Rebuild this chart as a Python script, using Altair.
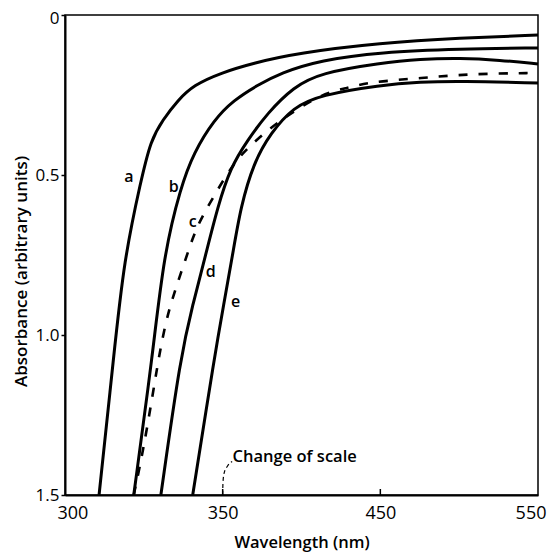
import altair as alt
import pandas as pd

# ---- data ----
a_wl = [310.8, 315.5, 318.7, 324.1, 327.2, 331.0, 335.8, 340.8, 349.4, 369.6, 397.5, 450.0, 500.6, 550.0]
a_abs = [1.5, 1.0625, 0.766, 0.516, 0.391, 0.328, 0.266, 0.219, 0.181, 0.150, 0.119, 0.0875, 0.072, 0.0625]

b_wl = [321.8, 327.8, 331.3, 336.7, 340.8, 347.2, 357.0, 372.2, 386.7, 412.0, 450.0, 500.6, 550.0]
b_abs = [1.5, 1.0625, 0.75, 0.5375, 0.431, 0.328, 0.266, 0.219, 0.181, 0.141, 0.116, 0.106, 0.103]

c_wl = [321.8, 324.7, 327.8, 330.4, 332.9, 335.8, 338.9, 341.8, 347.2, 357.0, 367.7, 384.8, 412.0, 429.1, 443.7, 476.6, 505.1, 550.0]
c_abs = [1.5, 1.366, 1.1875, 1.031, 0.922, 0.834, 0.744, 0.659, 0.566, 0.4625, 0.406, 0.334, 0.247, 0.228, 0.209, 0.197, 0.184, 0.181]

d_wl = [330.4, 336.7, 340.5, 344.6, 348.4, 355.1, 365.8, 378.5, 394.9, 412.0, 450.0, 475.3, 500.6, 525.9, 550.0]
d_abs = [1.5, 1.0625, 0.906, 0.75, 0.6, 0.475, 0.391, 0.306, 0.225, 0.181, 0.15, 0.1375, 0.134, 0.141, 0.153]

e_wl = [340.5, 347.5, 350.6, 356.3, 361.4, 369.6, 380.4, 394.9, 412.0, 450.0, 475.3, 500.6, 550.0]
e_abs = [1.5, 1.0625, 0.906, 0.75, 0.6, 0.4625, 0.369, 0.2875, 0.25, 0.219, 0.209, 0.206, 0.2125]

label_text = ["a", "b", "c", "d", "e"]
label_wl = [320.3, 334.5, 340.5, 346.2, 358.2]
label_abs = [0.506, 0.5375, 0.647, 0.803, 0.897]

x_ticks = [300, 350, 450, 550]
y_ticks = [0, 0.5, 1.0, 1.5]
inner_ticks = [350, 450]

note_text = ["Change of scale"]
note_wl = [356.3]
note_abs = [1.381]
pointer_wl = [350.0, 350.2, 351.0, 353.0, 356.0]
pointer_abs = [1.5, 1.46, 1.43, 1.41, 1.395]

# ---- build tables ----
rows = []
for name, wl, ab in [("a", a_wl, a_abs), ("b", b_wl, b_abs), ("c", c_wl, c_abs),
                     ("d", d_wl, d_abs), ("e", e_wl, e_abs)]:
    for i, (w, v) in enumerate(zip(wl, ab)):
        rows.append({"curve": name, "wl": w, "abs": v, "i": i})
curves = pd.DataFrame(rows)
solid = curves[curves.curve != "c"]
dashed = curves[curves.curve == "c"]
labels = pd.DataFrame({"t": label_text, "wl": label_wl, "abs": label_abs})
note = pd.DataFrame({"t": note_text, "wl": note_wl, "abs": note_abs})
pointer = pd.DataFrame({"wl": pointer_wl, "abs": pointer_abs, "i": range(len(pointer_wl))})
ticks_df = pd.DataFrame({"wl": inner_ticks})

W, H = 473, 480
FONT = "Open Sans"

xscale = alt.Scale(domain=[300, 350, 550], range=[0, W / 3, W], nice=False, zero=False)
yscale = alt.Scale(domain=[0, 1.5], reverse=True, nice=False)

xaxis = alt.Axis(values=x_ticks, format="d", title="Wavelength (nm)", grid=False,
                 tickSize=0, labelPadding=9, labelFontSize=18, labelFont=FONT,
                 labelColor="black", titleFont=FONT, titleFontSize=16.5,
                 titleFontWeight=600, titleColor="black", titleY=52,
                 titleBaseline="alphabetic", domainColor="black", domainWidth=2,
                 labelFlush=True, labelFlushOffset=8)
yaxis = alt.Axis(values=y_ticks, title="Absorbance (arbitrary units)", grid=False,
                 labelExpr="datum.value == 0 ? '0' : format(datum.value, '.1f')",
                 tickSize=4, tickColor="black", tickWidth=1.5, labelPadding=2,
                 labelFontSize=17, labelFont=FONT, labelColor="black",
                 labelOffset={"condition": {"test": "datum.value == 0", "value": 3},
                              "value": 0},
                 titleFont=FONT, titleFontSize=17, titleFontWeight=600,
                 titleColor="black", titleX=-44, titleY=256, titleBaseline="middle",
                 domainColor="black", domainWidth=2, labelFlush=False)

x = alt.X("wl:Q", scale=xscale, axis=xaxis)
y = alt.Y("abs:Q", scale=yscale, axis=yaxis)

solid_lines = alt.Chart(solid).mark_line(color="black", strokeWidth=3,
                                         interpolate="basis").encode(
    x=x, y=y, detail="curve:N", order="i:Q")
dashed_line = alt.Chart(dashed).mark_line(color="black", strokeWidth=2.6,
                                          strokeDash=[9, 11],
                                          interpolate="basis").encode(
    x="wl:Q", y="abs:Q", order="i:Q")
label_marks = alt.Chart(labels).mark_text(font=FONT, fontSize=16, fontWeight=600,
                                          color="black", baseline="middle",
                                          align="center").encode(
    x="wl:Q", y="abs:Q", text="t:N")
note_mark = alt.Chart(note).mark_text(font=FONT, fontSize=16.5, fontWeight=600,
                                      color="black", baseline="middle",
                                      align="left").encode(
    x="wl:Q", y="abs:Q", text="t:N")
pointer_mark = alt.Chart(pointer).mark_line(color="black", strokeWidth=1.2,
                                            strokeDash=[4, 3],
                                            interpolate="monotone").encode(
    x="wl:Q", y="abs:Q", order="i:Q")
tick_marks = alt.Chart(ticks_df).mark_rule(color="black", strokeWidth=1.5).encode(
    x="wl:Q", y=alt.value(H - 6), y2=alt.value(H))

chart = alt.layer(solid_lines, dashed_line, label_marks, note_mark, pointer_mark,
                  tick_marks).properties(
    width=W, height=H,
    autosize=alt.AutoSizeParams(type="none"),
    padding={"left": 57, "top": 7, "right": 9, "bottom": 60},
    background="white",
).configure_view(stroke="black", strokeWidth=1.5)

chart.save("out.html", embed_options={"renderer": "svg", "actions": False})
